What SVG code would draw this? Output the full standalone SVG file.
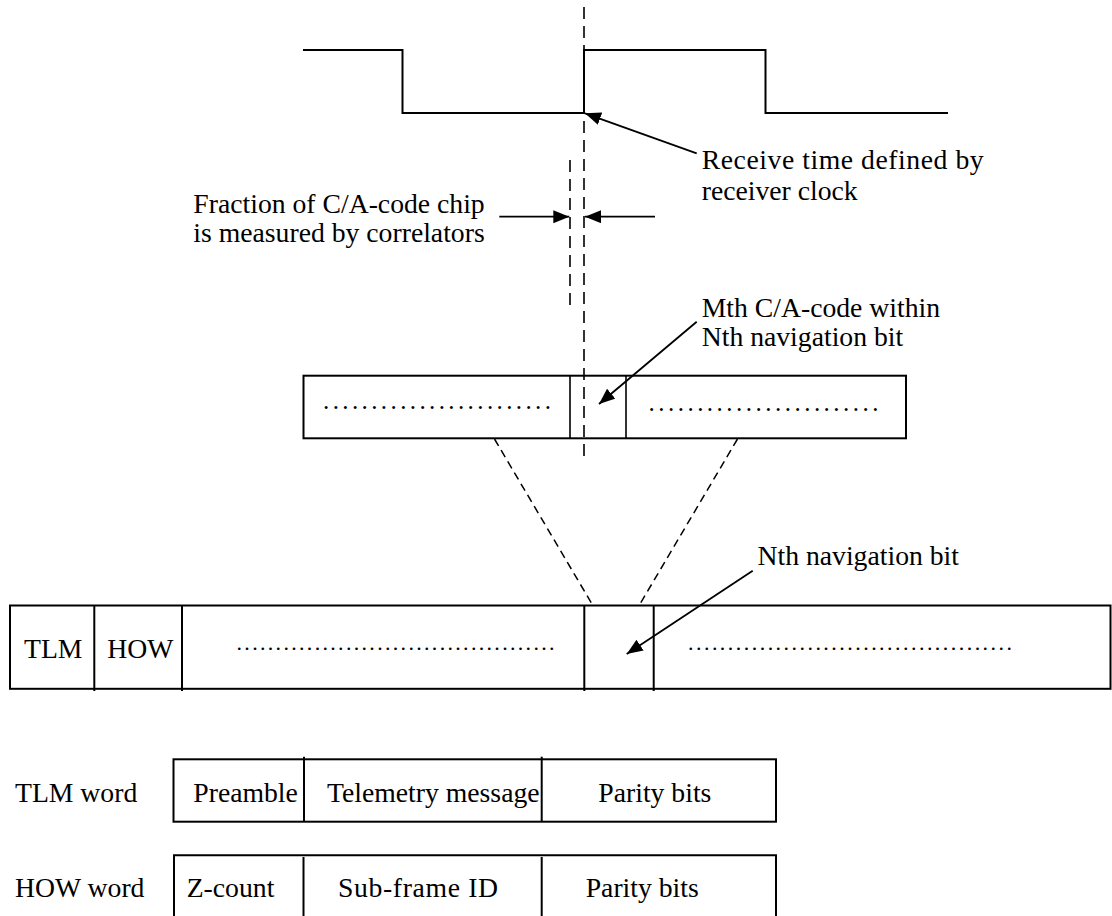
<svg xmlns="http://www.w3.org/2000/svg" width="1112" height="916" viewBox="0 0 1112 916">
<style>
text{font-family:"Liberation Serif","Times New Roman",serif;font-size:27.7px;fill:#000}
.ln{stroke:#000;stroke-width:2;fill:none}
.th{stroke:#000;stroke-width:1.6;fill:none}
.dl{stroke:#000;stroke-width:1.6;fill:none;stroke-dasharray:12 7}
.dd{stroke:#000;stroke-width:1.5;fill:none;stroke-dasharray:8 5}
.ar{stroke:#000;stroke-width:1.8;fill:none;marker-end:url(#ah)}
.dm{font-size:25px}
.df{font-size:22px}
</style>
<defs>
<marker id="ah" markerUnits="userSpaceOnUse" markerWidth="18" markerHeight="14" refX="16" refY="6.5" orient="auto">
<path d="M0,0 L16,6.5 L0,13 z" fill="#000"/>
</marker>
</defs>
<rect width="1112" height="916" fill="#fff"/>

<g id="waveform">
<path class="ln" d="M303,50 H402.5 V113 H584 V50 H765.5 V113 H948"/>
</g>

<g id="connectors">
<line class="dl" x1="584" y1="7" x2="584" y2="463"/>
<line class="dl" x1="570" y1="160" x2="570" y2="305"/>
<line class="ar" x1="696.7" y1="153.3" x2="585" y2="113.3"/>
<line class="ar" x1="499.3" y1="216.7" x2="569.3" y2="216.7"/>
<line class="ar" x1="655" y1="216.7" x2="585" y2="216.7"/>
<line class="ar" x1="696.7" y1="321.7" x2="599" y2="404"/>
<line class="dd" x1="494.5" y1="439" x2="592" y2="604"/>
<line class="dd" x1="737.5" y1="439" x2="640" y2="604"/>
<line class="ar" x1="752.7" y1="570.7" x2="626.7" y2="654"/>
</g>

<g id="label-receive">
<text x="701.7" y="169.3" textLength="282" lengthAdjust="spacing">Receive time defined by</text>
<text x="701.7" y="200">receiver clock</text>
</g>

<g id="label-fraction">
<text x="193.3" y="213">Fraction of C/A-code chip</text>
<text x="193.3" y="241.7">is measured by correlators</text>
</g>

<g id="label-mth">
<text x="701.7" y="316.7">Mth C/A-code within</text>
<text x="701.7" y="346">Nth navigation bit</text>
</g>

<g id="codebox">
<rect class="ln" x="303.5" y="375.7" width="602.5" height="62.6"/>
<line class="th" x1="570" y1="375.7" x2="570" y2="438.3"/>
<line class="th" x1="626" y1="375.7" x2="626" y2="438.3"/>
<text class="dm" x="323" y="409" textLength="228" lengthAdjust="spacing">........................</text>
<text class="dm" x="648.5" y="411" textLength="230" lengthAdjust="spacing">........................</text>
</g>

<g id="label-nth">
<text x="757.5" y="565">Nth navigation bit</text>
</g>

<g id="subframe">
<rect class="ln" x="10" y="605.5" width="1100.5" height="83.3"/>
<line class="ln" x1="94.3" y1="605.5" x2="94.3" y2="691"/>
<line class="ln" x1="182" y1="605.5" x2="182" y2="691"/>
<line class="ln" x1="584.3" y1="605.5" x2="584.3" y2="691"/>
<line class="ln" x1="653.7" y1="605.5" x2="653.7" y2="691"/>
<text x="24" y="658.3">TLM</text>
<text x="107.3" y="658.3">HOW</text>
<text class="df" x="236.5" y="650" textLength="318" lengthAdjust="spacing">.........................................</text>
<text class="df" x="688" y="650" textLength="324" lengthAdjust="spacing">.........................................</text>
</g>

<g id="tlm-word">
<text x="15" y="801.5">TLM word</text>
<rect class="ln" x="173.5" y="759.3" width="602.5" height="62.4"/>
<line class="ln" x1="304" y1="756.7" x2="304" y2="821.7"/>
<line class="ln" x1="541.7" y1="756.7" x2="541.7" y2="821.7"/>
<text x="193.3" y="801.5">Preamble</text>
<text x="327" y="801.5">Telemetry message</text>
<text x="598.3" y="801.5">Parity bits</text>
</g>

<g id="how-word">
<text x="15" y="897">HOW word</text>
<path class="ln" d="M174,918 V855.3 H776 V918"/>
<line class="ln" x1="303.5" y1="857" x2="303.5" y2="918"/>
<line class="ln" x1="541.7" y1="857" x2="541.7" y2="918"/>
<text x="186.7" y="897">Z-count</text>
<text x="338" y="897" textLength="160" lengthAdjust="spacing">Sub-frame ID</text>
<text x="585.7" y="897">Parity bits</text>
</g>
</svg>
